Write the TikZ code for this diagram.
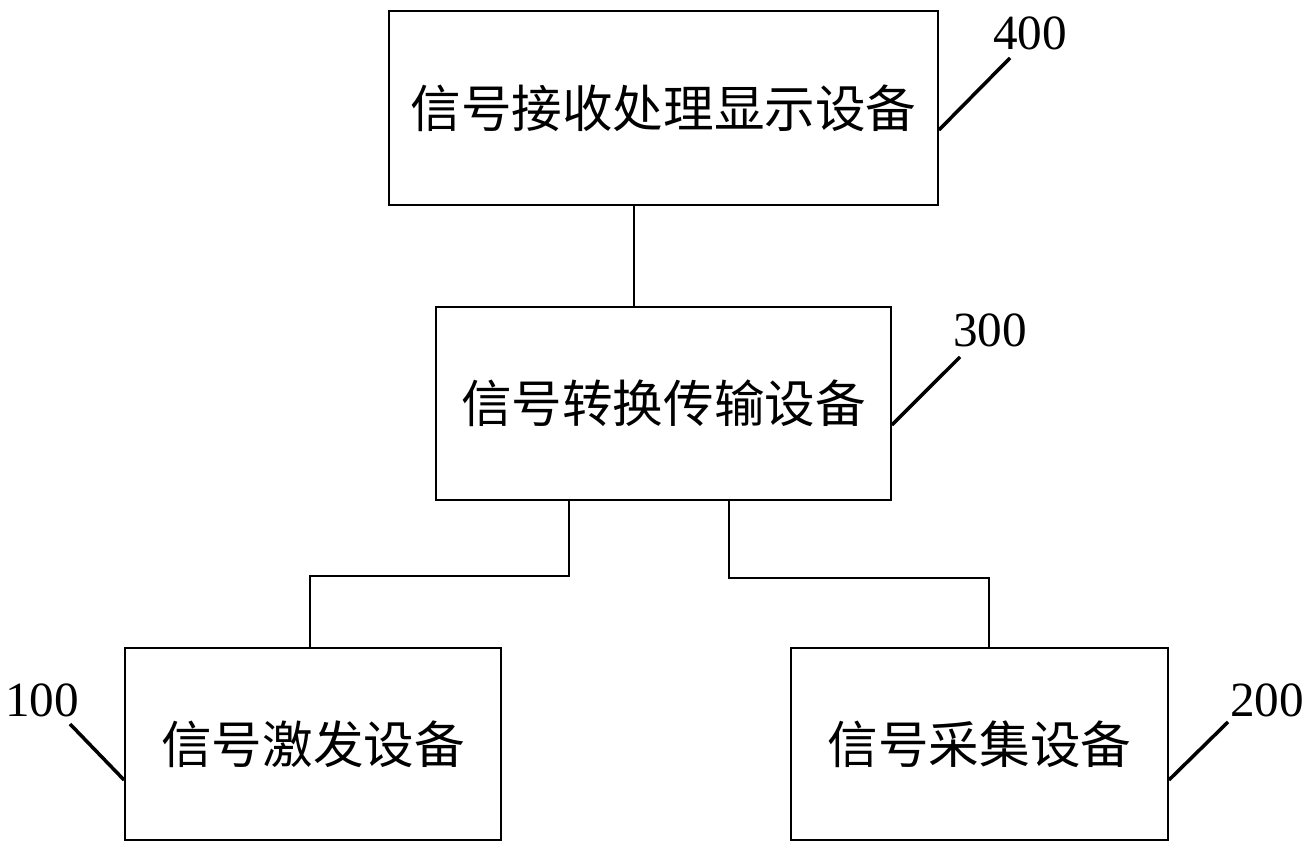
\documentclass[tikz,border=0pt]{standalone}
\usepackage{fontspec}
\setmainfont{Liberation Serif}
\newfontfamily\cjk{Noto Sans CJK SC}
\usetikzlibrary{positioning}

\begin{document}
\begin{tikzpicture}[x=0.02cm, y=-0.02cm,
    device/.style={draw, line width=1.1pt, inner sep=0pt,
                   font=\cjk\fontsize{28.8}{32}\selectfont},
    tag/.style={font=\fontsize{28}{30}\selectfont, inner sep=0pt},
    lead/.style={line width=2pt},
    wire/.style={line width=1.1pt}
]
    \useasboundingbox (0,0) rectangle (1313,854);

    % devices
    \node[device, minimum width=10.98cm, minimum height=3.88cm] (recv) at (663.5,108) {信号接收处理显示设备};
    \node[device, minimum width=9.10cm, minimum height=3.86cm] (conv) at (663.5,403.5) {信号转换传输设备};
    \node[device, minimum width=7.52cm, minimum height=3.84cm] (exc) at (313,744) {信号激发设备};
    \node[device, minimum width=7.54cm, minimum height=3.84cm] (coll) at (979.5,744) {信号采集设备};

    % connections
    \draw[wire] (634,0 |- recv.south) -- (634,0 |- conv.north);
    \draw[wire] (569,0 |- conv.south) |- (310,576) -- (310,0 |- exc.north);
    \draw[wire] (729,0 |- conv.south) |- (989,578) -- (989,0 |- coll.north);

    % reference numbers
    \node[tag] (n400) at (1030,33) {400};
    \node[tag] (n300) at (990,330) {300};
    \node[tag] (n100) at (42,700) {100};
    \node[tag] (n200) at (1267,700) {200};

    \coordinate (e400) at (1010,58);
    \coordinate (e300) at (960,357);
    \coordinate (e100) at (70,724);
    \coordinate (e200) at (1228,722);

    \draw[lead] (recv.east |- 0,130) -- (e400);
    \draw[lead] (conv.east |- 0,425) -- (e300);
    \draw[lead] (e100) -- (exc.west |- 0,780);
    \draw[lead] (coll.east |- 0,780) -- (e200);
\end{tikzpicture}
\end{document}
